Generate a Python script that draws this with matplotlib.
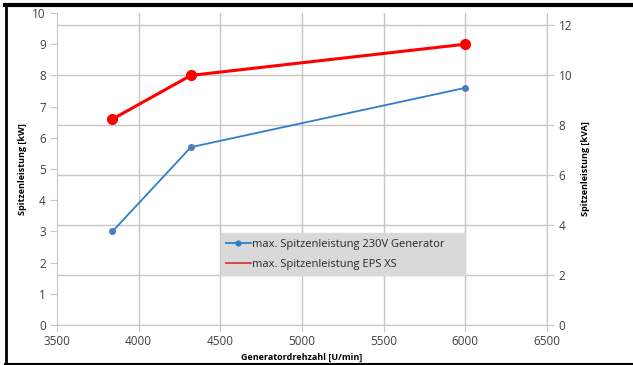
import numpy as np
import matplotlib
matplotlib.use("Agg")
from matplotlib import pyplot as plt
from matplotlib.lines import Line2D

plt.rcParams['font.family'] = ['Open Sans', 'DejaVu Sans']

rpm = [3840, 4320, 6000]
gen_230v = [3.0, 5.7, 7.6]
eps_xs = [6.6, 8.0, 9.0]

label_gen = 'max. Spitzenleistung 230V Generator'
label_eps = 'max. Spitzenleistung EPS XS'

grid_c = '#c6c6c6'
txt_c = '#404040'

fig = plt.figure(figsize=(6.33, 3.65), dpi=100)
ax = fig.add_axes([0.090, 0.1096, 0.774, 0.8548])
ax2 = ax.twinx()

ax.set_xlim(3500, 6500)
ax.set_ylim(0, 10)
ax2.set_ylim(0, 12.5)
ax.set_xticks(np.arange(3500, 6501, 500))
ax.set_yticks(np.arange(0, 11, 1))
ax2.set_yticks(np.arange(0, 13, 2))

# gridlines follow the secondary axis (like the Excel original)
for v in np.arange(0, 13, 2):
    ax2.axhline(v, color=grid_c, lw=1.0, zorder=0)
for v in np.arange(4000, 6501, 500):
    ax.axvline(v, color=grid_c, lw=1.0, zorder=0)

ax.plot(rpm, gen_230v, color='#2e7fc8', lw=1.3, marker='o', ms=4,
        markerfacecolor='#4a7ebb', markeredgecolor='#4a7ebb', zorder=5)
ax.plot(rpm, eps_xs, color='#ff0000', lw=2.2, marker='o', ms=7, zorder=6)
ax.set_zorder(ax2.get_zorder() + 1)
ax.patch.set_visible(False)

for a in (ax, ax2):
    a.spines['top'].set_visible(False)
    for s in ('left', 'right', 'bottom'):
        a.spines[s].set_color(grid_c)
    a.tick_params(colors=grid_c, labelcolor=txt_c, labelsize=8.5, length=5)
ax.spines['right'].set_visible(False)
ax2.spines['left'].set_visible(False)
ax2.spines['bottom'].set_visible(False)
ax.tick_params(axis='y', pad=3)
ax.tick_params(axis='x', pad=2)

ax.set_ylabel('Spitzenleistung [kW]', fontsize=6.5, fontweight='bold', labelpad=4)
ax2.set_ylabel('Spitzenleistung [kVA]', fontsize=6.5, fontweight='bold', labelpad=6)
ax.set_xlabel('Generatordrehzahl [U/min]', fontsize=6.5, fontweight='bold', labelpad=4)

handles = [Line2D([], [], color='#2e7fc8', lw=1.3, marker='o', ms=3.5),
           Line2D([], [], color='#d9383a', lw=1.3)]
leg = ax.legend(handles, [label_gen, label_eps], loc='lower left',
                bbox_to_anchor=(0.334, 0.160, 0.499, 0.155), mode='expand',
                fontsize=8, frameon=True, fancybox=False, handlelength=2.2,
                handletextpad=0.1, borderaxespad=0, labelspacing=0.8,
                borderpad=0.5)
leg.get_frame().set_facecolor('#d9d9d9')
leg.get_frame().set_edgecolor('#d9d9d9')
leg.get_frame().set_alpha(1)
for t in leg.get_texts():
    t.set_color('#262626')

# black frame around the image
fig.add_artist(Line2D([0.008, 1.0], [0.986, 0.986], color='black', lw=3,
                      transform=fig.transFigure))
fig.add_artist(Line2D([0.0095, 0.0095], [0.003, 0.988], color='black', lw=2,
                      transform=fig.transFigure))
fig.add_artist(Line2D([0.008, 1.0], [0.004, 0.004], color='black', lw=1.5,
                      transform=fig.transFigure))

fig.savefig('out.png', dpi=100, facecolor='white')
